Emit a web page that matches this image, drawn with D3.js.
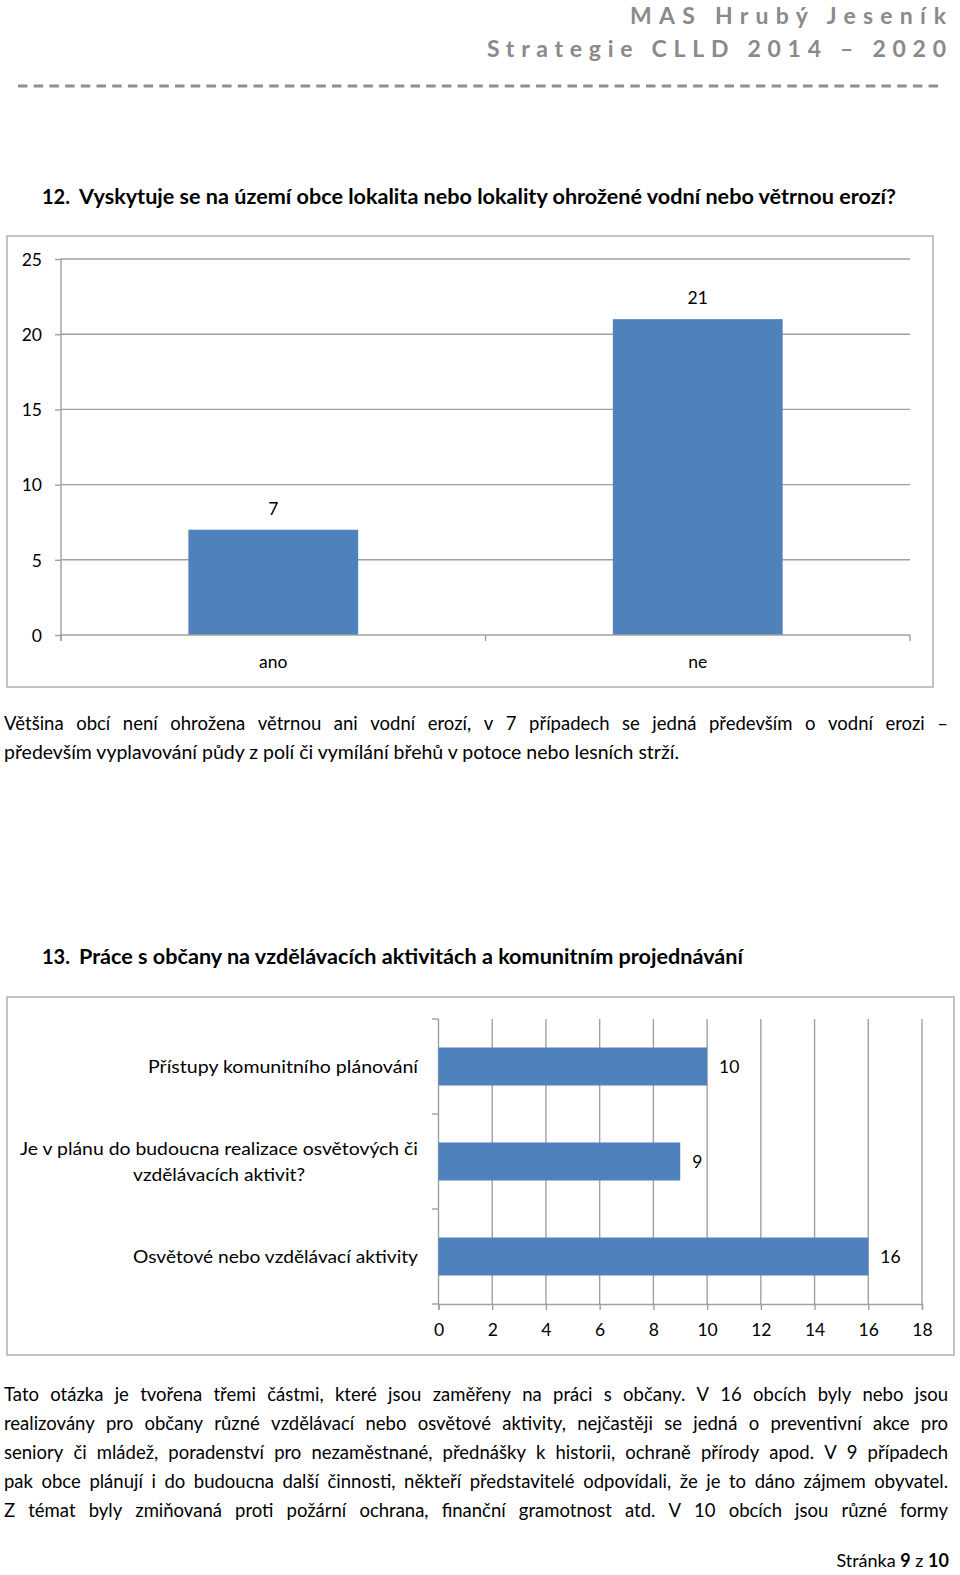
<!DOCTYPE html>
<html>
<head>
<meta charset="utf-8">
<script src="https://cdn.jsdelivr.net/npm/d3@7"></script>
<style>
  html, body { margin: 0; padding: 0; background: #fff; }
  svg { display: block; }
  text { font-family: Lato, "Open Sans", sans-serif; }
</style>
</head>
<body>
<svg id="page" width="960" height="1575"></svg>
<script>
// ---------- data ----------
const headerLines = ["MAS Hrubý Jeseník", "Strategie CLLD 2014 – 2020"];

const q12Number = "12.";
const q12Title = "Vyskytuje se na území obce lokalita nebo lokality ohrožené vodní nebo větrnou erozí?";
const chart1Categories = ["ano", "ne"];
const chart1Values = [7, 21];
const chart1Ticks = [0, 5, 10, 15, 20, 25];

const body1Lines = [
  "Většina obcí není ohrožena větrnou ani vodní erozí, v 7 případech se jedná především o vodní erozi –",
  "především vyplavování půdy z polí či vymílání břehů v potoce nebo lesních strží."
];

const q13Number = "13.";
const q13Title = "Práce s občany na vzdělávacích aktivitách a komunitním projednávání";
const chart2Categories = [
  ["Přístupy komunitního plánování"],
  ["Je v plánu do budoucna realizace osvětových či", "vzdělávacích aktivit?"],
  ["Osvětové nebo vzdělávací aktivity"]
];
const chart2Values = [10, 9, 16];
const chart2Ticks = [0, 2, 4, 6, 8, 10, 12, 14, 16, 18];

const body2Lines = [
  "Tato otázka je tvořena třemi částmi, které jsou zaměřeny na práci s občany. V 16 obcích byly nebo jsou",
  "realizovány pro občany různé vzdělávací nebo osvětové aktivity, nejčastěji se jedná o preventivní akce pro",
  "seniory či mládež, poradenství pro nezaměstnané, přednášky k historii, ochraně přírody apod. V 9 případech",
  "pak obce plánují i do budoucna další činnosti, někteří představitelé odpovídali, že je to dáno zájmem obyvatel.",
  "Z témat byly zmiňovaná proti požární ochrana, finanční gramotnost atd. V 10 obcích jsou různé formy"
];

const footerParts = [["Stránka ", 400], ["9", 700], [" z ", 400], ["10", 700]];

// ---------- styles ----------
const BAR = "#4f81bd";
const GRID = "#a0a0a0";
const FRAME = "#bcbcbc";
const HEAD = "#8a8a8a";

const svg = d3.select("#page");

// ---------- header ----------
const headerSpec = [{x0: 630, x1: 946, y: 24}, {x0: 487, x1: 946, y: 57}];
headerLines.forEach((t, i) => {
  svg.append("text")
    .attr("x", headerSpec[i].x0).attr("y", headerSpec[i].y)
    .attr("font-size", 23).attr("font-weight", 700).attr("fill", HEAD)
    .attr("textLength", headerSpec[i].x1 - headerSpec[i].x0)
    .attr("lengthAdjust", "spacing")
    .text(t);
});
svg.append("line")
  .attr("x1", 18).attr("x2", 944).attr("y1", 86).attr("y2", 86)
  .attr("stroke", "#8f8f8f").attr("stroke-width", 3)
  .attr("stroke-dasharray", "9.5 6.2");

// ---------- helpers ----------
function fitText(sel, width) {
  const w = sel.node().getComputedTextLength();
  if (Math.abs(w - width) / width < 0.25) {
    sel.attr("textLength", width).attr("lengthAdjust", "spacingAndGlyphs");
  }
  return sel;
}

function title(num, txt, y, endX) {
  svg.append("text").attr("x", 42).attr("y", y)
    .attr("font-size", 20).attr("font-weight", 700).text(num);
  const t = svg.append("text").attr("x", 79).attr("y", y)
    .attr("font-size", 20).attr("font-weight", 700).text(txt);
  fitText(t, endX - 79);
}

const BODY_SIZE = 18.5;
const MIN_GAP = 4.6;
function measureWords(words, size) {
  const tmp = svg.append("g");
  const ws = words.map(w => {
    const t = tmp.append("text").attr("font-size", size).text(w);
    return t.node().getComputedTextLength();
  });
  tmp.remove();
  return ws;
}
function paragraph(lines, ys, x0, x1, justifyLast, lastEnd) {
  lines.forEach((line, i) => {
    const justified = i < lines.length - 1 || justifyLast;
    if (justified) {
      const words = line.split(" ");
      let ws = measureWords(words, BODY_SIZE);
      const sum = d3.sum(ws);
      let f = 1;
      if (sum + MIN_GAP * (words.length - 1) > x1 - x0) {
        f = (x1 - x0 - MIN_GAP * (words.length - 1)) / sum;
      }
      const sw = ws.map(w => w * f);
      const gap = (x1 - x0 - d3.sum(sw)) / (words.length - 1);
      let x = x0;
      words.forEach((w, k) => {
        const t = svg.append("text").attr("x", x).attr("y", ys[i])
          .attr("font-size", BODY_SIZE).text(w);
        if (f < 1) t.attr("textLength", sw[k]).attr("lengthAdjust", "spacingAndGlyphs");
        x += sw[k] + gap;
      });
    } else {
      const t = svg.append("text").attr("x", x0).attr("y", ys[i])
        .attr("font-size", BODY_SIZE).text(line);
      if (lastEnd) fitText(t, lastEnd - x0);
    }
  });
}

// ---------- question 12 ----------
title(q12Number, q12Title, 204, 896);

// chart 1 frame
svg.append("rect").attr("x", 7).attr("y", 236).attr("width", 926).attr("height", 451)
  .attr("fill", "none").attr("stroke", FRAME).attr("stroke-width", 1.8);

const c1 = svg.append("g");
const x1 = d3.scaleBand().domain(chart1Categories).range([61, 910])
  .paddingInner(0.6).paddingOuter(0.3);
const y1 = d3.scaleLinear().domain([0, 25]).range([635, 259]);

// gridlines
c1.selectAll("line.grid").data(chart1Ticks.filter(d => d > 0)).join("line")
  .attr("x1", 61).attr("x2", 910)
  .attr("y1", d => y1(d)).attr("y2", d => y1(d))
  .attr("stroke", GRID).attr("stroke-width", 1.4);

// y axis
const yAxis1 = d3.axisLeft(y1).tickValues(chart1Ticks).tickSize(6).tickPadding(13);
const ga1 = c1.append("g").attr("transform", "translate(61,0)").call(yAxis1);
ga1.select(".domain").remove();
ga1.selectAll(".tick line").attr("stroke", GRID).attr("stroke-width", 1.4);
ga1.selectAll(".tick text").attr("font-family", "Lato").attr("font-size", 17.5)
  .attr("fill", "#000").attr("dy", "0.36em");
c1.append("line").attr("x1", 61).attr("x2", 61).attr("y1", 259).attr("y2", 641)
  .attr("stroke", GRID).attr("stroke-width", 1.4);

// bars
c1.selectAll("rect.bar").data(chart1Values).join("rect")
  .attr("x", (d, i) => x1(chart1Categories[i]))
  .attr("width", x1.bandwidth())
  .attr("y", d => y1(d))
  .attr("height", d => y1(0) - y1(d))
  .attr("fill", BAR);

// x axis
c1.append("line").attr("x1", 61).attr("x2", 910).attr("y1", 635).attr("y2", 635)
  .attr("stroke", GRID).attr("stroke-width", 1.4);
const bounds1 = d3.range(chart1Categories.length + 1).map(i => 61 + i * (849 / chart1Categories.length));
c1.selectAll("line.xt").data(bounds1).join("line")
  .attr("x1", d => d).attr("x2", d => d).attr("y1", 635).attr("y2", 641)
  .attr("stroke", GRID).attr("stroke-width", 1.4);

// category labels
c1.selectAll("text.cat").data(chart1Categories).join("text")
  .attr("x", d => x1(d) + x1.bandwidth() / 2).attr("y", 668)
  .attr("text-anchor", "middle").attr("font-size", 17.5).text(d => d);

// data labels
c1.selectAll("text.val").data(chart1Values).join("text")
  .attr("x", (d, i) => x1(chart1Categories[i]) + x1.bandwidth() / 2)
  .attr("y", d => y1(d) - 15)
  .attr("text-anchor", "middle").attr("font-size", 17.5).text(d => d);

// ---------- body text 1 ----------
paragraph(body1Lines, [730, 759], 4, 948, false, 679);

// ---------- question 13 ----------
title(q13Number, q13Title, 964, 743);

svg.append("rect").attr("x", 7).attr("y", 997).attr("width", 947).attr("height", 358)
  .attr("fill", "none").attr("stroke", FRAME).attr("stroke-width", 1.8);

const c2 = svg.append("g");
const x2 = d3.scaleLinear().domain([0, 18]).range([438.5, 922]);
const y2 = d3.scaleBand().domain(d3.range(chart2Categories.length)).range([1019, 1304])
  .paddingInner(0.6).paddingOuter(0.3);

// vertical gridlines
c2.selectAll("line.grid").data(chart2Ticks.filter(d => d > 0)).join("line")
  .attr("x1", d => x2(d)).attr("x2", d => x2(d))
  .attr("y1", 1019).attr("y2", 1304)
  .attr("stroke", GRID).attr("stroke-width", 1.4);

// bottom axis
const xAxis2 = d3.axisBottom(x2).tickValues(chart2Ticks).tickSize(6).tickPadding(14);
const gx2 = c2.append("g").attr("transform", "translate(0,1304)").call(xAxis2);
gx2.select(".domain").attr("stroke", GRID).attr("stroke-width", 1.4);
gx2.selectAll(".tick line").attr("stroke", GRID).attr("stroke-width", 1.4);
gx2.selectAll(".tick text").attr("font-family", "Lato").attr("font-size", 17.5).attr("fill", "#000");

// category axis
c2.append("line").attr("x1", 438.5).attr("x2", 438.5).attr("y1", 1019).attr("y2", 1304)
  .attr("stroke", GRID).attr("stroke-width", 1.4);
const bounds2 = d3.range(chart2Categories.length + 1).map(i => 1019 + i * y2.step());
c2.selectAll("line.yt").data(bounds2).join("line")
  .attr("x1", 432).attr("x2", 438.5).attr("y1", d => d).attr("y2", d => d)
  .attr("stroke", GRID).attr("stroke-width", 1.4);

// bars
c2.selectAll("rect.bar").data(chart2Values).join("rect")
  .attr("x", x2(0))
  .attr("y", (d, i) => y2(i))
  .attr("width", d => x2(d) - x2(0))
  .attr("height", y2.bandwidth())
  .attr("fill", BAR);

// data labels
c2.selectAll("text.val").data(chart2Values).join("text")
  .attr("x", d => x2(d) + 12)
  .attr("y", (d, i) => y2(i) + y2.bandwidth() / 2 + 6)
  .attr("font-size", 17.5).text(d => d);

// category labels (centered multi-line, right-aligned block)
const labelWidths = [[270], [398, 172], [285]];
chart2Categories.forEach((lines, i) => {
  const cy = y2(i) + y2.bandwidth() / 2;
  const lh = 26;
  const base = cy + 6 - (lines.length - 1) * lh / 2;
  const blockW = d3.max(labelWidths[i]);
  const centerX = 418 - blockW / 2;
  lines.forEach((ln, k) => {
    const t = c2.append("text")
      .attr("x", centerX).attr("y", base + k * lh)
      .attr("text-anchor", "middle").attr("font-size", 17.5).text(ln);
    fitText(t, labelWidths[i][k]);
  });
});

// ---------- body text 2 ----------
paragraph(body2Lines, [1401, 1430, 1459, 1488, 1517], 4, 948, true);

// ---------- footer ----------
const ft = svg.append("text").attr("x", 949).attr("y", 1567)
  .attr("text-anchor", "end").attr("font-size", 18);
footerParts.forEach(([s, w]) => ft.append("tspan").attr("font-weight", w).text(s));
</script>
</body>
</html>
